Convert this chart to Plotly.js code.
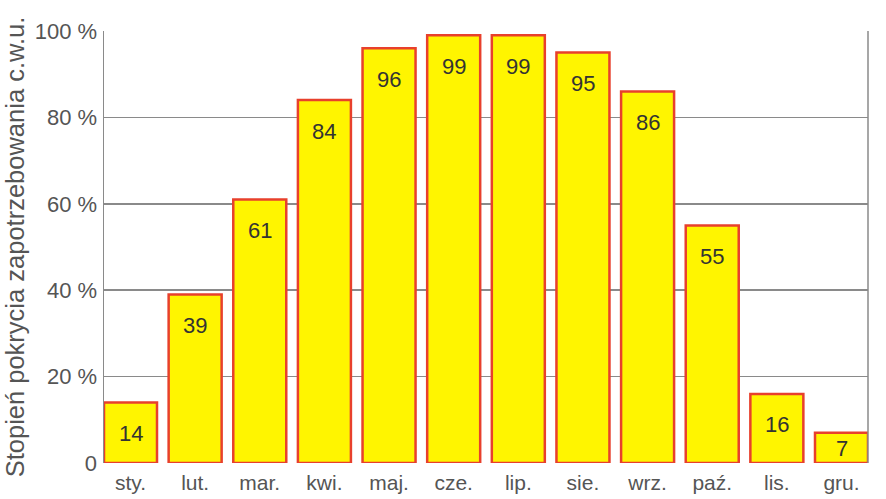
<!DOCTYPE html>
<html>
<head>
<meta charset="utf-8">
<script src="https://cdn.plot.ly/plotly-3.0.1.min.js"></script>
<style>html,body{margin:0;padding:0;background:#fff;}#chart{width:886px;height:499px;}</style>
</head>
<body>
<div id="chart"></div>
<script>
const months = ["sty.", "lut.", "mar.", "kwi.", "maj.", "cze.", "lip.", "sie.", "wrz.", "paź.", "lis.", "gru."];
const coverage = [14, 39, 61, 84, 96, 99, 99, 95, 86, 55, 16, 7];
const yTickValues = [0, 20, 40, 60, 80, 100];
const yTickLabels = ["0", "20 %", "40 %", "60 %", "80 %", "100 %"];
const yTitle = "Stopień pokrycia zapotrzebowania c.w.u.";

const FONT = 'Liberation Sans, Arial, sans-serif';
const plotH = 432.5;
const annotations = coverage.map((v, i) => {
  const hPx = v / 100 * plotH;
  return {
    x: months[i], y: v, xref: 'x', yref: 'y',
    text: String(v), showarrow: false,
    yanchor: 'middle', yshift: -Math.min(31, hPx / 2 + 1),
    font: {family: FONT, size: 22, color: '#333'}
  };
});

const trace = {
  type: 'bar', x: months, y: coverage,
  marker: {color: '#fff500', line: {color: '#e8402c', width: 2.5}},
  hoverinfo: 'skip'
};

const layout = {
  width: 886, height: 499,
  margin: {l: 104, r: 18, t: 31, b: 35.5, pad: 0},
  paper_bgcolor: '#ffffff', plot_bgcolor: '#ffffff',
  bargap: 0.18,
  showlegend: false,
  font: {family: FONT, color: '#555'},
  xaxis: {
    type: 'category', range: [-0.41, 11.41],
    showgrid: false, zeroline: false, showline: false, ticks: '',
    ticklabelstandoff: 5,
    tickfont: {size: 21, color: '#555'}, fixedrange: true
  },
  yaxis: {
    range: [0, 100], tickvals: yTickValues, ticktext: yTickLabels,
    showgrid: true, gridcolor: '#8a8a8a', gridwidth: 1.5,
    zeroline: false, showline: true, linecolor: '#8a8a8a', linewidth: 1.5,
    ticks: '', ticklabelstandoff: 1,
    tickfont: {size: 22, color: '#555'},
    title: {text: yTitle, font: {size: 25.5, color: '#555'}, standoff: 3},
    fixedrange: true
  },
  shapes: [
    {type: 'line', xref: 'paper', yref: 'paper', x0: 1, x1: 1, y0: 0, y1: 1,
     line: {color: '#8a8a8a', width: 1.5}}
  ],
  annotations: annotations
};

Plotly.newPlot('chart', [trace], layout, {displayModeBar: false, staticPlot: true});
</script>
</body>
</html>
